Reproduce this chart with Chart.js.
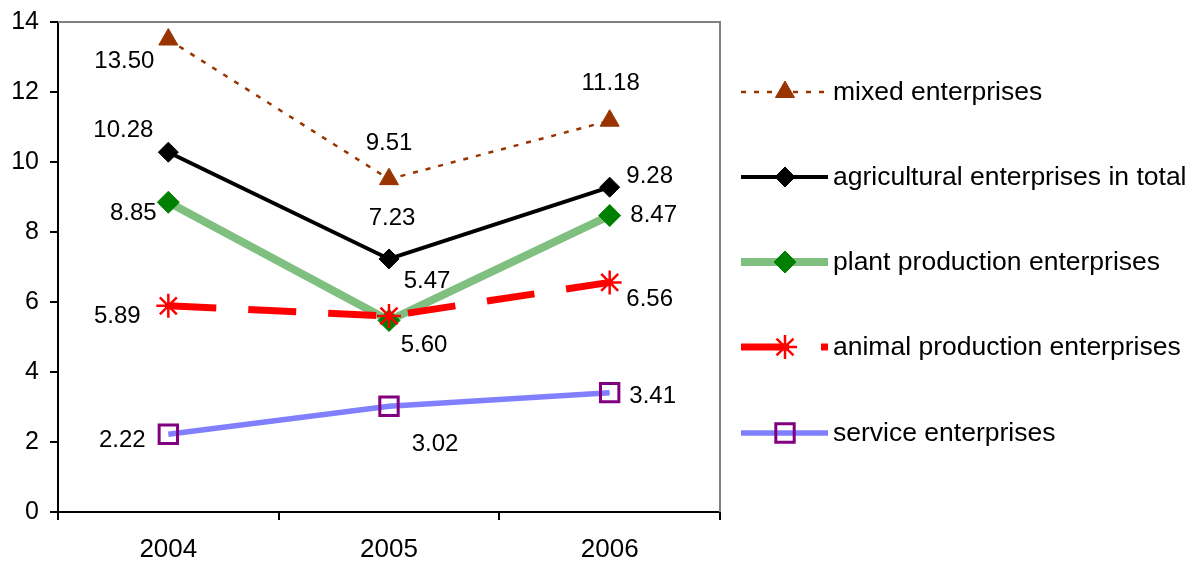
<!DOCTYPE html>
<html>
<head>
<meta charset="utf-8">
<title>Enterprises by year</title>
<script src="https://cdn.jsdelivr.net/npm/chart.js@4.4.1/dist/chart.umd.min.js"></script>
<style>
  html, body { margin: 0; padding: 0; background: #fff; }
  #wrap { width: 1195px; height: 561px; }
</style>
</head>
<body>
<div id="wrap"><canvas id="chart" width="1195" height="561"></canvas></div>
<script>
// data
const years = ['2004', '2005', '2006'];
const mixed = [13.50, 9.51, 11.18];
const agriTotal = [10.28, 7.23, 9.28];
const plantProd = [8.85, 5.47, 8.47];
const animalProd = [5.89, 5.60, 6.56];
const services = [2.22, 3.02, 3.41];
const yTicks = [0, 2, 4, 6, 8, 10, 12, 14];

const seriesNames = [
  'mixed enterprises',
  'agricultural enterprises in total',
  'plant production enterprises',
  'animal production enterprises',
  'service enterprises'
];

const FONT = "'Liberation Sans', Arial, sans-serif";

// where each value label sits relative to its point (dx, dy)
const labelOffsets = [
  [[-44, 22], [0, -36], [1, -37]],
  [[-45, -22], [3, -41], [40, -11]],
  [[-35, 11], [38, -39], [44, 0]],
  [[-51, 11], [35, 29], [40, 17]],
  [[-46, 6], [46, 38], [43, 4]]
];

const datasets = [
  { label: seriesNames[0], data: mixed, borderColor: '#993300', borderWidth: 2.5, borderDash: [5, 8],
    pointStyle: 'triangle', pointRadius: 11, pointBackgroundColor: '#993300', pointBorderColor: '#993300', pointBorderWidth: 1, order: 5 },
  { label: seriesNames[1], data: agriTotal, borderColor: '#000000', borderWidth: 4,
    pointStyle: 'rectRot', pointRadius: 10, pointBackgroundColor: '#000000', pointBorderColor: '#000000', pointBorderWidth: 1, order: 4 },
  { label: seriesNames[2], data: plantProd, borderColor: '#7fbf7f', borderWidth: 8,
    pointStyle: 'rectRot', pointRadius: 11, pointBackgroundColor: '#008000', pointBorderColor: '#008000', pointBorderWidth: 1, order: 3 },
  { label: seriesNames[3], data: animalProd, borderColor: '#ff0000', borderWidth: 7, borderDash: [48, 32],
    pointStyle: 'star', pointRadius: 12, pointBackgroundColor: '#ff0000', pointBorderColor: '#ff0000', pointBorderWidth: 2.5, order: 2 },
  { label: seriesNames[4], data: services, borderColor: '#8080ff', borderWidth: 5.5,
    pointStyle: 'rect', pointRadius: 13, pointBackgroundColor: 'rgba(0,0,0,0)', pointBorderColor: '#800080', pointBorderWidth: 3, order: 1 }
];

// gray frame on top and right of the plot area
const frame = {
  id: 'frame',
  beforeDatasetsDraw(chart) {
    const { ctx, chartArea: a } = chart;
    ctx.save();
    ctx.strokeStyle = '#808080';
    ctx.lineWidth = 2;
    ctx.beginPath();
    ctx.moveTo(a.left, a.top);
    ctx.lineTo(a.right, a.top);
    ctx.lineTo(a.right, a.bottom);
    ctx.stroke();
    ctx.restore();
  }
};

const valueLabels = {
  id: 'valueLabels',
  afterDatasetsDraw(chart) {
    const ctx = chart.ctx;
    ctx.save();
    ctx.font = '24px ' + FONT;
    ctx.fillStyle = '#000';
    ctx.textAlign = 'center';
    ctx.textBaseline = 'middle';
    chart.data.datasets.forEach((ds, i) => {
      const meta = chart.getDatasetMeta(i);
      meta.data.forEach((pt, j) => {
        const off = labelOffsets[i][j];
        ctx.fillText(ds.data[j].toFixed(2), pt.x + off[0], pt.y + off[1]);
      });
    });
    ctx.restore();
  }
};

// legend at the right, line sample with marker in the middle
const sideLegend = {
  id: 'sideLegend',
  afterDraw(chart) {
    const ctx = chart.ctx;
    const x0 = 741, x1 = 828, xm = 785, tx = 833;
    const rows = [92, 177, 262, 347, 433];
    chart.data.datasets.forEach((ds, i) => {
      const y = rows[i];
      ctx.save();
      ctx.strokeStyle = ds.borderColor;
      ctx.lineWidth = ds.borderWidth;
      ctx.setLineDash(ds.borderDash || []);
      ctx.beginPath();
      ctx.moveTo(x0, y);
      ctx.lineTo(x1, y);
      ctx.stroke();
      ctx.setLineDash([]);
      ctx.fillStyle = ds.pointBackgroundColor;
      ctx.strokeStyle = ds.pointBorderColor;
      ctx.lineWidth = ds.pointBorderWidth;
      Chart.helpers.drawPoint(ctx, { pointStyle: ds.pointStyle, radius: ds.pointRadius, rotation: 0, borderWidth: ds.pointBorderWidth }, xm, y);
      ctx.fillStyle = '#000';
      ctx.font = '26.5px ' + FONT;
      ctx.textAlign = 'left';
      ctx.textBaseline = 'middle';
      ctx.fillText(ds.label, tx, y + 1);
      ctx.restore();
    });
  }
};

new Chart(document.getElementById('chart'), {
  type: 'line',
  data: { labels: years, datasets: datasets },
  plugins: [frame, valueLabels, sideLegend],
  options: {
    responsive: false,
    animation: false,
    layout: { padding: { top: 22, right: 475, left: 0, bottom: 0 } },
    plugins: { legend: { display: false }, tooltip: { enabled: false } },
    elements: { line: { tension: 0 } },
    scales: {
      x: {
        type: 'category',
        offset: true,
        grid: { offset: true, drawOnChartArea: false, drawTicks: true, tickLength: 8, color: '#000', lineWidth: 2 },
        border: { display: true, color: '#000', width: 2 },
        ticks: { color: '#000', font: { family: FONT, size: 26 }, padding: 14, maxRotation: 0 },
        afterFit(s) { s.height = 49; }
      },
      y: {
        min: 0,
        max: 14,
        afterBuildTicks(s) { s.ticks = yTicks.map(v => ({ value: v })); },
        grid: { drawOnChartArea: false, drawTicks: true, tickLength: 8, color: '#000', lineWidth: 2 },
        border: { display: true, color: '#000', width: 2 },
        // small lineHeight so the top label does not push the plot area down
        ticks: { color: '#000', font: { family: FONT, size: 25, lineHeight: 0.8 }, padding: 11 },
        afterFit(s) { s.width = 58; }
      }
    }
  }
});
</script>
</body>
</html>
